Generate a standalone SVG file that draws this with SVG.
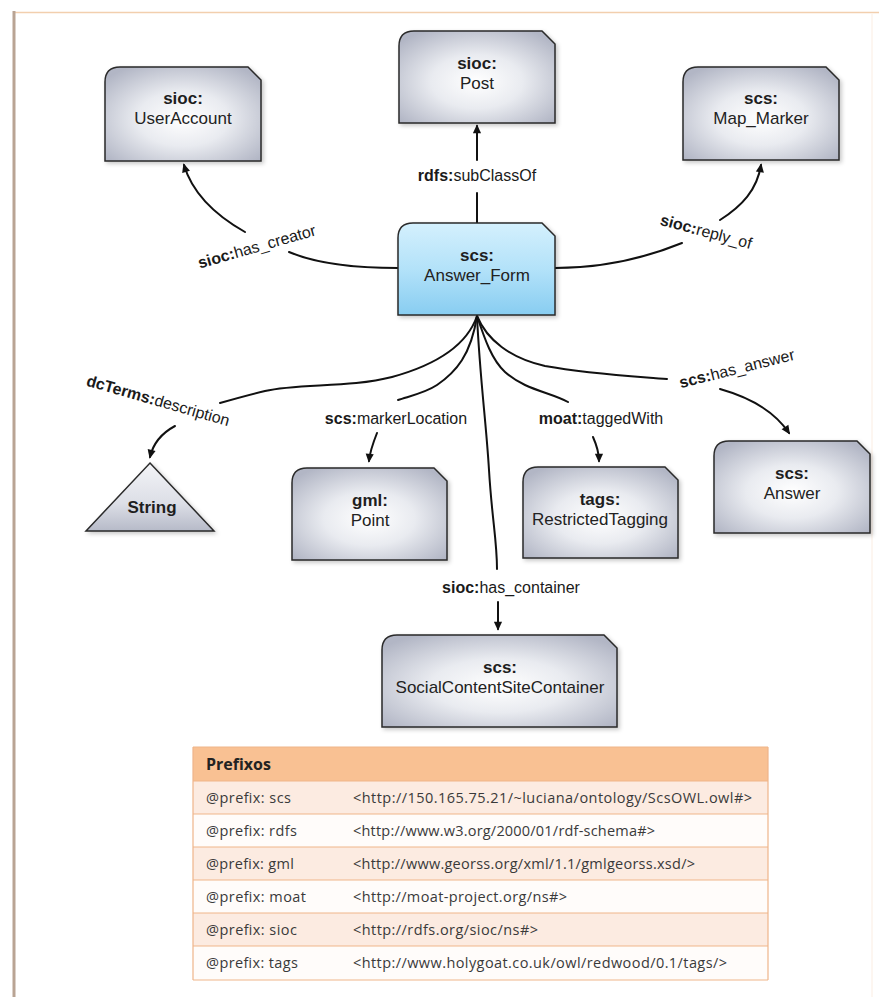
<svg xmlns="http://www.w3.org/2000/svg" width="879" height="997" viewBox="0 0 879 997">
  <style>
    .box { fill: url(#gGray); stroke: #2a2a2a; stroke-width: 1.5; filter: url(#shadow); }
    .main { fill: url(#gBlue); stroke: #2a2a2a; stroke-width: 1.5; filter: url(#shadow); }
    .ns { font-family: "Liberation Sans", Arial, sans-serif; font-size: 17px; font-weight: bold; fill: #1e1e1e; text-anchor: middle; }
    .nm { font-family: "Liberation Sans", Arial, sans-serif; font-size: 17px; fill: #222; text-anchor: middle; }
    .edge { fill: none; stroke: #111; stroke-width: 2; stroke-linecap: round; }
    .arr { marker-end: url(#head); }
    .lbl { font-family: "Liberation Sans", Arial, sans-serif; font-size: 16px; fill: #1a1a1a; text-anchor: middle; }
    .lbl tspan.b { font-weight: bold; }
    .th { font-family: "Open Sans", "Liberation Sans", sans-serif; font-size: 16px; font-weight: bold; fill: #222; }
    .td { font-family: "Open Sans", "Liberation Sans", sans-serif; font-size: 14.5px; fill: #3a3a3a; }
    .rowA { fill: #fcebe1; }
    .rowB { fill: #fffcfa; }
    .grid { stroke: #efb58a; stroke-width: 1.2; fill: none; }
  </style>
  <defs>
    <radialGradient id="gGray" cx="50%" cy="55%" r="65%">
      <stop offset="0" stop-color="#ffffff"/>
      <stop offset="0.45" stop-color="#e9ebf0"/>
      <stop offset="1" stop-color="#b2b6c5"/>
    </radialGradient>
    <linearGradient id="gBlue" x1="0" y1="0" x2="0" y2="1">
      <stop offset="0" stop-color="#d4f0fd"/>
      <stop offset="0.5" stop-color="#b3e2f9"/>
      <stop offset="1" stop-color="#88cdf1"/>
    </linearGradient>
    <linearGradient id="gTri" x1="0" y1="0" x2="0" y2="1">
      <stop offset="0" stop-color="#f3f4f7"/>
      <stop offset="0.6" stop-color="#dcdee6"/>
      <stop offset="1" stop-color="#b6bac8"/>
    </linearGradient>
    <filter id="shadow" x="-10%" y="-10%" width="125%" height="125%">
      <feDropShadow dx="2" dy="2" stdDeviation="2" flood-color="#000" flood-opacity="0.22"/>
    </filter>
    <marker id="head" viewBox="0 0 10 10" refX="8" refY="5" markerWidth="10" markerHeight="9" markerUnits="userSpaceOnUse" orient="auto">
      <path d="M0,0.5 L10,5 L0,9.5 Z" fill="#111"/>
    </marker>
  </defs>

  <!-- page frame -->
  <rect x="0" y="0" width="879" height="997" fill="#ffffff"/>
  <line x1="14" y1="12.5" x2="879" y2="12.5" stroke="#f2cfae" stroke-width="1.5"/>
  <line x1="14" y1="11" x2="14" y2="997" stroke="#b9a494" stroke-width="3"/>
  <line x1="872" y1="14" x2="872" y2="997" stroke="#fbede2" stroke-width="1"/>

  <!-- connectors -->
  <g id="connectors">
    <!-- rdfs:subClassOf -->
    <path class="edge" d="M477,223 L477,193"/>
    <path class="edge arr" d="M477,160 L477,126"/>
    <text class="lbl" x="477" y="181"><tspan class="b">rdfs:</tspan>subClassOf</text>

    <!-- sioc:has_creator -->
    <path class="edge" d="M398,268 C355,268 315,263 289,252"/>
    <path class="edge arr" d="M245,232 C215,215 192,192 184,165"/>
    <text class="lbl" transform="translate(257,247) rotate(-16)" y="5"><tspan class="b">sioc:</tspan>has_creator</text>

    <!-- sioc:reply_of -->
    <path class="edge" d="M555,268 C600,268 645,258 682,243"/>
    <path class="edge arr" d="M720,220 C742,206 757,190 761,165"/>
    <text class="lbl" transform="translate(706,232) rotate(15)" y="5"><tspan class="b">sioc:</tspan>reply_of</text>

    <!-- dcTerms:description -->
    <path class="edge" d="M477,316 C466,348 432,366 392,377 C350,388 298,383 265,391 C248,395 234,399 220,403"/>
    <path class="edge arr" d="M175,426 C162,433 153,444 150,457"/>
    <text class="lbl" transform="translate(158,401) rotate(16)" y="5"><tspan class="b">dcTerms:</tspan>description</text>

    <!-- scs:markerLocation -->
    <path class="edge" d="M477,316 C471,355 456,372 437,385 C425,393 410,396 398,400"/>
    <path class="edge arr" d="M377,433 C373,443 370,451 369,461"/>
    <text class="lbl" x="396" y="424"><tspan class="b">scs:</tspan>markerLocation</text>

    <!-- sioc:has_container -->
    <path class="edge" d="M477,316 C480,380 486,420 489,470 C492,520 497,540 497,569"/>
    <path class="edge arr" d="M498,602 L498,629"/>
    <text class="lbl" x="511" y="593"><tspan class="b">sioc:</tspan>has_container</text>

    <!-- moat:taggedWith -->
    <path class="edge" d="M477,316 C485,340 492,360 505,372 C525,390 550,392 568,402"/>
    <path class="edge arr" d="M593,437 C597,446 599,453 599,461"/>
    <text class="lbl" x="601" y="424"><tspan class="b">moat:</tspan>taggedWith</text>

    <!-- scs:has_answer -->
    <path class="edge" d="M477,316 C487,340 510,358 545,366 C590,374 630,376 667,379"/>
    <path class="edge arr" d="M720,389 C752,398 775,412 789,433"/>
    <text class="lbl" transform="translate(737,369) rotate(-14)" y="5"><tspan class="b">scs:</tspan>has_answer</text>
  </g>

  <!-- nodes -->
  <g id="node-useraccount">
    <path class="box" d="M105,161 L105,82 Q105,67 120,67 L248,67 L261,80 L261,161 Z"/>
    <text class="ns" x="183" y="104">sioc:</text>
    <text class="nm" x="183" y="124">UserAccount</text>
  </g>

  <g id="node-post">
    <path class="box" d="M399,123 L399,46 Q399,31 414,31 L542,31 L555,44 L555,123 Z"/>
    <text class="ns" x="477" y="69">sioc:</text>
    <text class="nm" x="477" y="89">Post</text>
  </g>

  <g id="node-mapmarker">
    <path class="box" d="M683,160 L683,82 Q683,67 698,67 L826,67 L839,80 L839,160 Z"/>
    <text class="ns" x="761" y="104">scs:</text>
    <text class="nm" x="761" y="124">Map_Marker</text>
  </g>

  <g id="node-answerform">
    <path class="main" d="M398,315 L398,238 Q398,223 413,223 L542,223 L555,236 L555,315 Z"/>
    <text class="ns" x="477" y="261">scs:</text>
    <text class="nm" x="477" y="281">Answer_Form</text>
  </g>

  <g id="node-string">
    <path d="M150,463 L214,531 L86,531 Z" fill="url(#gTri)" stroke="#2a2a2a" stroke-width="1.5" filter="url(#shadow)"/>
    <text class="ns" x="152" y="513">String</text>
  </g>

  <g id="node-point">
    <path class="box" d="M292,560 L292,483 Q292,468 307,468 L434,468 L447,481 L447,560 Z"/>
    <text class="ns" x="370" y="506">gml:</text>
    <text class="nm" x="370" y="526">Point</text>
  </g>

  <g id="node-restrictedtagging">
    <path class="box" d="M523,558 L523,482 Q523,467 538,467 L665,467 L678,480 L678,558 Z"/>
    <text class="ns" x="600" y="505">tags:</text>
    <text class="nm" x="600" y="525">RestrictedTagging</text>
  </g>

  <g id="node-answer">
    <path class="box" d="M714,533 L714,456 Q714,441 729,441 L857,441 L870,454 L870,533 Z"/>
    <text class="ns" x="792" y="479">scs:</text>
    <text class="nm" x="792" y="499">Answer</text>
  </g>

  <g id="node-container">
    <path class="box" d="M382,727 L382,650 Q382,635 397,635 L604,635 L617,648 L617,727 Z"/>
    <text class="ns" x="500" y="673">scs:</text>
    <text class="nm" x="500" y="693">SocialContentSiteContainer</text>
  </g>

  <!-- prefix table -->
  <g id="prefix-table">
    <rect x="193" y="747" width="575" height="34" fill="#f9c193"/>
    <rect class="rowA" x="193" y="781" width="575" height="33"/>
    <rect class="rowB" x="193" y="814" width="575" height="33"/>
    <rect class="rowA" x="193" y="847" width="575" height="33"/>
    <rect class="rowB" x="193" y="880" width="575" height="33"/>
    <rect class="rowA" x="193" y="913" width="575" height="33"/>
    <rect class="rowB" x="193" y="946" width="575" height="34"/>
    <path class="grid" d="M193,747 H768 M193,781 H768 M193,814 H768 M193,847 H768 M193,880 H768 M193,913 H768 M193,946 H768 M193,980 H768 M193,747 V980 M768,747 V980"/>

    <text class="th" x="206" y="770">Prefixos</text>

    <text class="td" x="206" y="803" textLength="85">@prefix: scs</text>
    <text class="td" x="353" y="803" textLength="399">&lt;http://150.165.75.21/~luciana/ontology/ScsOWL.owl#&gt;</text>

    <text class="td" x="206" y="836" textLength="91">@prefix: rdfs</text>
    <text class="td" x="353" y="836" textLength="302">&lt;http://www.w3.org/2000/01/rdf-schema#&gt;</text>

    <text class="td" x="206" y="869" textLength="88">@prefix: gml</text>
    <text class="td" x="353" y="869" textLength="342">&lt;http://www.georss.org/xml/1.1/gmlgeorss.xsd/&gt;</text>

    <text class="td" x="206" y="902" textLength="100">@prefix: moat</text>
    <text class="td" x="353" y="902" textLength="214">&lt;http://moat-project.org/ns#&gt;</text>

    <text class="td" x="206" y="935" textLength="91">@prefix: sioc</text>
    <text class="td" x="353" y="935" textLength="185">&lt;http://rdfs.org/sioc/ns#&gt;</text>

    <text class="td" x="206" y="968" textLength="92">@prefix: tags</text>
    <text class="td" x="353" y="968" textLength="374">&lt;http://www.holygoat.co.uk/owl/redwood/0.1/tags/&gt;</text>
  </g>
</svg>
